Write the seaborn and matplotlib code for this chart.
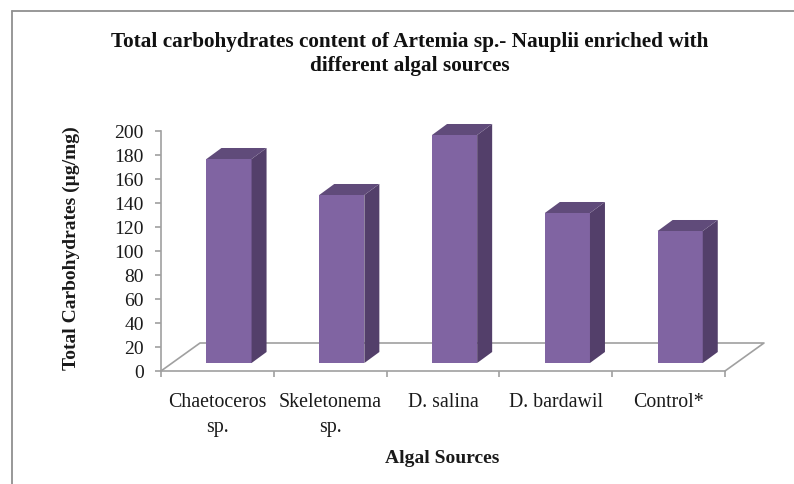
import matplotlib
matplotlib.use("Agg")
import matplotlib.pyplot as plt
from matplotlib.patches import Polygon
from matplotlib.lines import Line2D
import seaborn as sns
import pandas as pd

categories = ["Chaetoceros\nsp.", "Skeletonema\nsp.", "D. salina", "D. bardawil", "Control*"]
values = [170, 140, 190, 125, 110]
yticks = list(range(0, 201, 20))
title = "Total carbohydrates content of Artemia sp.- Nauplii enriched with\ndifferent algal sources"
xlabel = "Algal Sources"
ylabel = "Total Carbohydrates (µg/mg)"

W, H = 794, 485
sns.set_theme(style="white")
plt.rcParams["font.family"] = ["Liberation Serif", "DejaVu Serif"]
fig = plt.figure(figsize=(W / 100, H / 100), dpi=100, facecolor="white")
AX_L, AX_R, AX_T, AX_B = 161, 725, 132, 372
ax = fig.add_axes([AX_L / W, 1 - AX_B / H, (AX_R - AX_L) / W, (AX_B - AX_T) / H])

df = pd.DataFrame({"cat": categories, "val": values})
BASE = 6.67
sns.barplot(data=df, x="cat", y="val", color="#8064A2", saturation=1, width=0.4, ax=ax,
            bottom=BASE, edgecolor="none", zorder=3)
ax.set_xlim(-0.5, 4.5)
ax.set_ylim(0, 200)

px = 5 / 564      # category units per pixel
py = 200 / 240    # value units per pixel
dx, dy = 15 * px, 11 * py
fx, fy = 39 * px, 28 * py
shift = 11.6 * px
grey = "#A0A0A0"
txt = "#1a1a1a"

for p in list(ax.patches):
    p.set_x(p.get_x() + shift)
    p.set_clip_on(False)
    x0, x1 = p.get_x(), p.get_x() + p.get_width()
    y0, y1 = p.get_y(), p.get_y() + p.get_height()
    ax.add_patch(Polygon([(x1, y0), (x1 + dx, y0 + dy), (x1 + dx, y1 + dy), (x1, y1)],
                         fc="#533F6A", ec="none", zorder=3, clip_on=False))
    ax.add_patch(Polygon([(x0, y1), (x1, y1), (x1 + dx, y1 + dy), (x0 + dx, y1 + dy)],
                         fc="#604B7A", ec="none", zorder=3, clip_on=False))

# floor
ax.add_line(Line2D([-0.5, -0.5 + fx, 4.5 + fx, 4.5], [0, fy, fy, 0],
                   color=grey, lw=1.2, clip_on=False, zorder=1))

for s in ["top", "right"]:
    ax.spines[s].set_visible(False)
for s in ["left", "bottom"]:
    ax.spines[s].set_color(grey)
    ax.spines[s].set_linewidth(1.2)
    ax.spines[s].set_zorder(1)

ax.set_yticks(yticks)
ax.set_xticks([i - 0.5 for i in range(6)], [""] * 6)
ax.set_xticks(list(range(5)), categories, minor=True)
ax.tick_params(axis="y", which="major", color=grey, length=4.3, width=1.2, left=True,
               labelsize=14, labelcolor=txt, pad=8.2)
ax.tick_params(axis="x", which="major", color=grey, length=4, width=1.2, bottom=True)
ax.tick_params(axis="x", which="minor", length=0, labelsize=14.3, labelcolor=txt, pad=14.8)
for lab in ax.get_xticklabels(minor=True):
    lab.set_linespacing(1.45)

ax.set_xlabel(xlabel, fontsize=14, fontweight="bold", color=txt)
ax.xaxis.set_label_coords((442 - AX_L) / 564, (AX_B - 458.5) / 240)
ax.xaxis.label.set_va("center")
ax.set_ylabel(ylabel, fontsize=14, fontweight="bold", color=txt)
ax.yaxis.set_label_coords((71 - AX_L) / 564, (AX_B - 248) / 240)
ax.yaxis.label.set_va("center")
ax.set_title(title, x=(410 - AX_L) / 564, y=(AX_B - 62) / 240, fontsize=15.3, fontweight="bold",
             color="#111111", linespacing=1.25, va="center", ha="center")

# chart-area frame
frame = "#909090"
fig.add_artist(Line2D([12 / W, 12 / W], [0, 1 - 12 / H], color=frame, lw=1.3))
fig.add_artist(Line2D([12 / W, 1], [1 - 12 / H, 1 - 12 / H], color=frame, lw=1.3))
fig.savefig("out.png", dpi=100)
